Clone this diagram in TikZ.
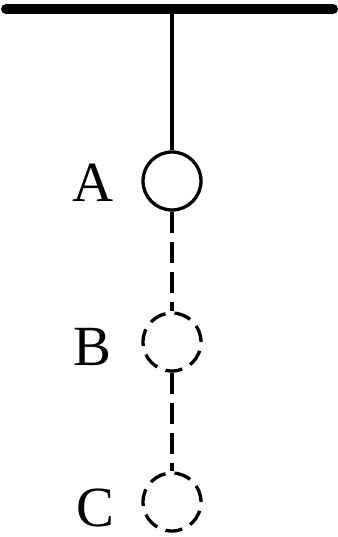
\documentclass[tikz,border=0pt]{standalone}
\usepackage{fontspec}
\setmainfont{Liberation Serif}
\begin{document}
\begin{tikzpicture}[x=1bp,y=-1bp,
  ball/.style={circle,draw,line width=3.3bp,minimum size=58bp,inner sep=0pt},
  dashball/.style={ball,dash pattern=on 17bp off 9bp},
  dashlink/.style={line width=3.3bp,dash pattern=on 21bp off 9bp},
  lbl/.style={font=\fontsize{57}{60}\selectfont,anchor=base,inner sep=0pt}]
\useasboundingbox (0,0) rectangle (337,537);
\coordinate (bl) at (6,9);
\coordinate (br) at (333,9);
\coordinate (top) at (172,9);
\draw[line width=10bp,line cap=round] (bl) -- (br);
\node[ball] (A) at (172,181) {};
\node[dashball] (B) at (172,342) {};
\node[dashball] (C) at (172,502) {};
\draw[line width=3.3bp] (top) -- (A.north);
\draw[dashlink] (A.south) -- (B.north);
\draw[dashlink] (B.south) -- (C.north);
\node[lbl] (la) at (93,202) {A};
\node[lbl] (lb) at (92,365) {B};
\node[lbl] (lc) at (95,526) {C};
\end{tikzpicture}
\end{document}
